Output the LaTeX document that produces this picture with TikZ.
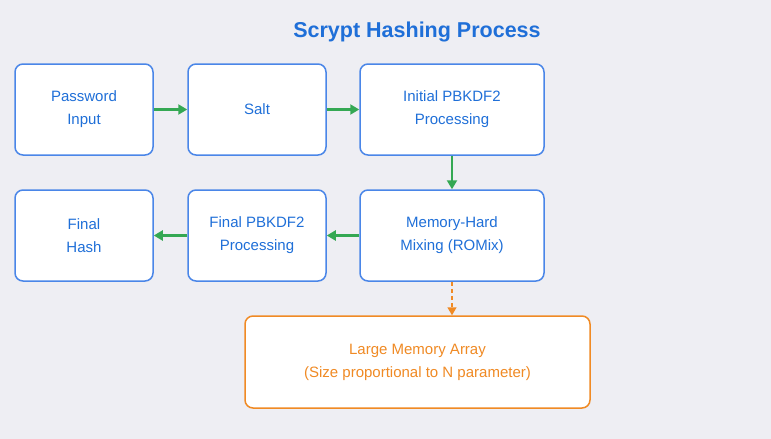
\documentclass[tikz,border=0pt]{standalone}
\usepackage{fontspec}
\setmainfont{Liberation Sans}
\usetikzlibrary{positioning, arrows.meta}
\definecolor{boxblue}{HTML}{4A86E8}
\definecolor{txtblue}{HTML}{1F6FD8}
\definecolor{arrgreen}{HTML}{34A853}
\definecolor{memorange}{HTML}{F08A24}
\definecolor{bggray}{HTML}{EEEEF3}
\tikzset{
x=1pt, y=1pt,
stage/.style={draw=boxblue, line width=1.5pt, fill=white, rounded corners=8pt,
  text=txtblue, align=center, font=\fontsize{15}{23}\selectfont}, % process boxes
flow/.style={-{Triangle[length=9pt,width=10pt]}, arrgreen, line width=2.5pt},
memory/.style={draw=memorange, line width=1.5pt, fill=white, rounded corners=8pt,
  text=memorange, align=center, font=\fontsize{15}{23}\selectfont},
}
\begin{document}
\begin{tikzpicture}
    \fill[bggray] (0,0) rectangle (771,-439);
    \useasboundingbox (0,0) rectangle (771,-439);
    \node[font=\bfseries\fontsize{21.5}{24}\selectfont, text=txtblue] (title) at (417,-32) {Scrypt Hashing Process};
    \node[stage, minimum width=138pt, minimum height=91pt] (pw) at (84,-109.5) {Password\\Input};
    \node[stage, minimum width=138pt, minimum height=91pt] (salt) at (257,-109.5) {Salt};
    \node[stage, minimum width=184pt, minimum height=91pt] (init) at (452,-109.5) {Initial PBKDF2\\Processing};
    \node[stage, minimum width=184pt, minimum height=91pt] (romix) at (452,-235.5) {Memory-Hard\\Mixing (ROMix)};
    \node[stage, minimum width=138pt, minimum height=91pt] (fin) at (257,-235.5) {Final PBKDF2\\Processing};
    \node[stage, minimum width=138pt, minimum height=91pt] (hash) at (84,-235.5) {Final\\Hash};
    \node[memory, minimum width=345pt, minimum height=92pt] (mem) at (417.5,-362) {Large Memory Array\\(Size proportional to N parameter)};
    \draw[flow] (pw) -- (salt);
    \draw[flow] (salt) -- (init);
    \draw[flow] (init) -- (romix);
    \draw[flow] (romix) -- (fin);
    \draw[flow] (fin) -- (hash);
    \draw[memorange, line width=1.5pt, dash pattern=on 4pt off 3pt, -{Triangle[length=8pt,width=9pt]}] (romix) -- (romix |- mem.north);
\end{tikzpicture}
\end{document}
